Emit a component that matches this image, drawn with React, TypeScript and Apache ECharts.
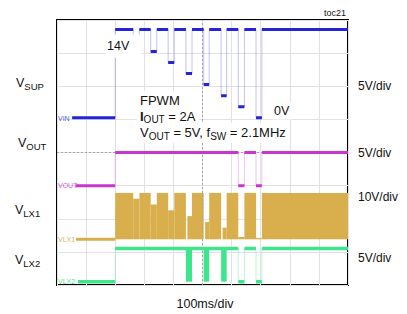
import React, { useEffect, useRef } from "react";
import * as echarts from "echarts";

// ---- data (time in ms, levels in volts) ----
const traceNames = ["VIN", "VOUT", "VLX1", "VLX2"];
const traceStartMs = [52, 65, 65, 72];
const timeTicksMs = [0, 100, 200, 300, 400, 500, 600, 700, 800, 900, 1000];
const supplyStepMs = 200;
const endMs = 1000;
const dipStartMs = [262, 322, 382, 443, 504, 564, 623, 684];
const dipEndMs = [283, 343, 403, 464, 523, 583, 644, 704];
const vinHighV = 14;
const vinDipV = [12.25, 10.5, 8.75, 7.0, 5.25, 3.5, 1.75, 0];
const voutHighV = 5;
const voutDipV = [5, 5, 5, 5, 5, 5, 0, 0];
const lx1HighV = 14;
const lx1DipTopV = [12.25, 10.5, 8.75, 7.0, 5.25, 3.5, 0.7, 0.4];
const lx1IdleMs = [0, 0, 0, 5, 5, 5, 0, 0];
const lx2HighV = 5;
const lx2DipV = [5, 5, 5, 5, 5, 5, 0, 0];
const lx2Switching = [false, false, false, true, true, true, false, false];
const voltsPerDiv = [5.25, 5, 10, 5];
const zeroDiv = [5.05, 3.0, 1.38, 0.1];
const leftLabels = [["V", "SUP"], ["V", "OUT"], ["V", "LX1"], ["V", "LX2"]];
const scaleLabels = ["5V/div", "5V/div", "10V/div", "5V/div"];

const colors = ["#2424d8", "#c935cf", "#d9ae4c", "#3de68b"];
const faint = ["rgba(36,36,216,0.28)", "rgba(201,53,207,0.3)", "rgba(217,174,76,0.4)", "rgba(61,230,139,0.35)"];
const tagColors = ["rgba(36,36,216,0.8)", "rgba(201,53,207,0.85)", "rgba(205,165,70,0.85)", "rgba(50,215,125,0.85)"];
const FONT = "'Liberation Sans', Arial, sans-serif";

function stepPoints(startMs: number, highV: number, dipV: number[]) {
  const pts: [number, number][] = [[startMs, 0], [supplyStepMs, highV]];
  dipStartMs.forEach((s, i) => {
    pts.push([s, dipV[i]], [dipEndMs[i], highV]);
  });
  pts.push([endMs, highV]);
  return pts;
}

function segments(pts: [number, number][], upTo?: number) {
  const out: any[] = [];
  const n = upTo === undefined ? pts.length - 1 : upTo;
  for (let i = 0; i < n; i++) {
    out.push([pts[i][0], pts[i][1]], [pts[i + 1][0], pts[i][1]], [pts[i + 1][0], "-"]);
  }
  return out;
}

function lx1Areas() {
  const a: any[] = [];
  let t = supplyStepMs;
  dipStartMs.forEach((s, i) => {
    a.push([{ coord: [t, 0] }, { coord: [s, lx1HighV] }]);
    a.push([{ coord: [s + lx1IdleMs[i], 0] }, { coord: [dipEndMs[i], lx1DipTopV[i]] }]);
    t = dipEndMs[i];
  });
  a.push([{ coord: [t, 0] }, { coord: [endMs, lx1HighV] }]);
  return a;
}

function lx2Areas() {
  const a: any[] = [];
  dipStartMs.forEach((s, i) => {
    if (lx2Switching[i]) a.push([{ coord: [s, 0] }, { coord: [dipEndMs[i], lx2HighV] }]);
  });
  return a;
}

const subText = (x: number, y: number, main: string, sub: string, size: number, extra: any = {}) => ({
  type: "text",
  x,
  y,
  z: 100,
  style: {
    text: `{m|${main}}{s|${sub}}`,
    verticalAlign: "middle",
    rich: {
      m: { fontSize: size, lineHeight: size + 4, fontFamily: FONT, fill: "#111", fontWeight: extra.bold ? "bold" : "normal" },
      s: { fontSize: size - 3, lineHeight: size - 2, fontFamily: FONT, fill: "#111", verticalAlign: "bottom" },
      n: { fontSize: size, lineHeight: size + 4, fontFamily: FONT, fill: "#111" },
    },
    ...extra.style,
  },
});

export default function App() {
  const ref = useRef<HTMLDivElement>(null);
  useEffect(() => {
    if (!ref.current) return;
    const chart = echarts.init(ref.current, null, { renderer: "svg" });

    const vinPts = stepPoints(traceStartMs[0], vinHighV, vinDipV);
    const voutPts = stepPoints(traceStartMs[1], voutHighV, voutDipV);
    const lx1Pts = stepPoints(traceStartMs[2], lx1HighV, lx1DipTopV);
    const lx2Pts = stepPoints(traceStartMs[3], lx2HighV, lx2DipV);

    const yAxes: any[] = [
      {
        type: "value", min: 0, max: 8, interval: 1,
        axisLine: { show: false }, axisTick: { show: false }, axisLabel: { show: false },
        splitLine: { show: true, lineStyle: { color: "#e2e2e6", width: 1 } },
      },
    ];
    voltsPerDiv.forEach((v, i) => {
      yAxes.push({
        type: "value", show: false,
        min: -zeroDiv[i] * v, max: (8 - zeroDiv[i]) * v,
        splitLine: { show: false },
      });
    });

    const thick = (name: string, idx: number, data: any[], w = 3) => ({
      type: "line", name, yAxisIndex: idx + 1, data, symbol: "none", connectNulls: false,
      lineStyle: { color: colors[idx], width: w, cap: "butt" }, z: 5,
    });
    const thin = (idx: number, data: any[]) => ({
      type: "line", yAxisIndex: idx + 1, data, symbol: "none", step: "end",
      lineStyle: { color: faint[idx], width: 1 }, z: 3,
    });

    const series: any[] = [
      {
        type: "line", yAxisIndex: 0, data: [], symbol: "none",
        markLine: {
          silent: true, symbol: ["none", "none"], label: { show: false },
          lineStyle: { color: "#a5a5a8", type: [2, 2], width: 1 },
          data: [{ xAxis: 500 }, { yAxis: 4 }],
        },
      },
      thin(0, vinPts),
      thick(traceNames[0], 0, segments(vinPts)),
      thin(1, voutPts),
      thick(traceNames[1], 1, segments(voutPts)),
      {
        ...thick(traceNames[2], 2, segments(lx1Pts, 1)),
        markArea: {
          silent: true, label: { show: false },
          itemStyle: { color: colors[2], opacity: 1, borderWidth: 0 },
          data: lx1Areas(),
        },
      },
      thin(3, lx2Pts),
      {
        ...thick(traceNames[3], 3, segments(lx2Pts), 3.5),
        markArea: {
          silent: true, label: { show: false },
          itemStyle: { color: colors[3], opacity: 1, borderWidth: 0 },
          data: lx2Areas(),
        },
      },
    ];

    const tagY = [118, 185.5, 239, 281];
    const leftY = [83, 143, 210, 260];
    const leftX = [16, 18, 15, 15];
    const rightY = [86, 153, 197, 257.5];

    const graphic: any[] = [
      { type: "text", x: 346, y: 13, z: 100, style: { text: "toc21", fontSize: 9, fontFamily: FONT, fill: "#111", align: "right", verticalAlign: "middle" } },
      { type: "text", x: 106, y: 46, z: 100, style: { text: "14V", fontSize: 12.5, fontFamily: FONT, fill: "#111", verticalAlign: "middle", backgroundColor: "#fff", padding: [5, 12, 5, 1] } },
      { type: "text", x: 273, y: 111, z: 100, style: { text: "0V", fontSize: 12.5, fontFamily: FONT, fill: "#111", verticalAlign: "middle", backgroundColor: "#fff", padding: [2, 3, 2, 1] } },
      { type: "text", x: 137, y: 100, z: 100, style: { text: "FPWM", fontSize: 13, fontFamily: FONT, fill: "#111", verticalAlign: "middle", backgroundColor: "#fff", padding: [3, 3, 2, 3] } },
      subText(137, 116, "I", "OUT", 13, { bold: true, style: { text: "{m|I}{s|OUT}{n| = 2A}", backgroundColor: "#fff", padding: [1, 3, 1, 3] } }),
      subText(137, 133, "V", "OUT", 13, { style: { text: "{n|V}{s|OUT}{n| = 5V, f}{s|SW}{n| = 2.1MHz}", backgroundColor: "#fff", padding: [1, 3, 2, 3] } }),
      { type: "text", x: 205, y: 304, z: 100, style: { text: "100ms/div", fontSize: 12.5, fontFamily: FONT, fill: "#111", align: "center", verticalAlign: "middle" } },
    ];
    leftLabels.forEach((l, i) => graphic.push(subText(leftX[i], leftY[i], l[0], l[1], 12.5)));
    scaleLabels.forEach((s, i) =>
      graphic.push({ type: "text", x: 358, y: rightY[i], z: 100, style: { text: s, fontSize: 12, fontFamily: FONT, fill: "#111", verticalAlign: "middle" } })
    );
    traceNames.forEach((n, i) =>
      graphic.push({ type: "text", x: 58, y: tagY[i], z: 100, style: { text: n, fontSize: 7, fontFamily: FONT, fill: tagColors[i], verticalAlign: "middle" } })
    );

    chart.setOption({
      animation: false,
      grid: { left: 57, top: 20, width: 291, height: 265, show: true, borderColor: "#000", borderWidth: 2, backgroundColor: "transparent" },
      xAxis: {
        type: "value", min: timeTicksMs[0], max: timeTicksMs[timeTicksMs.length - 1], interval: timeTicksMs[1] - timeTicksMs[0],
        axisLine: { show: false }, axisTick: { show: false }, axisLabel: { show: false },
        splitLine: { show: true, lineStyle: { color: "#e2e2e6", width: 1 } },
      },
      yAxis: yAxes,
      series,
      graphic,
    });
    return () => chart.dispose();
  }, []);
  return <div ref={ref} style={{ position: "fixed", left: 0, top: 0, width: 407, height: 314, background: "#fff" }} />;
}
